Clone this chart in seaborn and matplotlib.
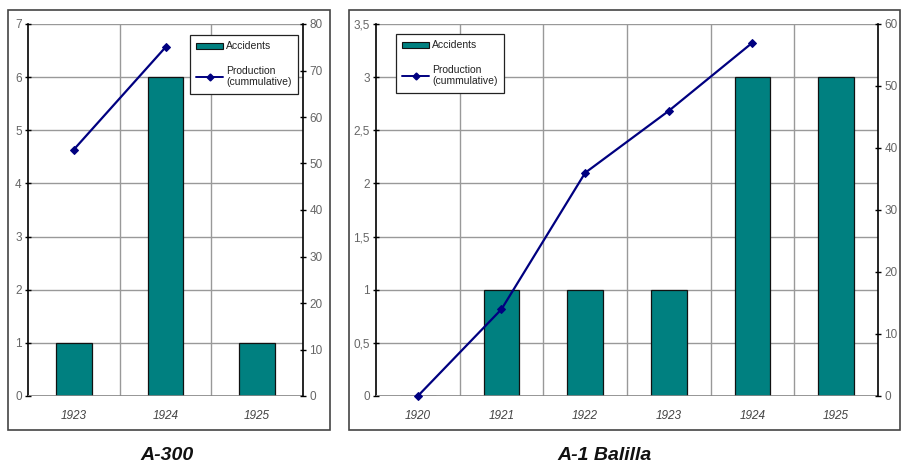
import numpy as np
import matplotlib
matplotlib.use("Agg")
import matplotlib.pyplot as plt
import seaborn as sns
from matplotlib.patches import Rectangle, Patch
from matplotlib.lines import Line2D
from matplotlib.ticker import FuncFormatter, FixedLocator

# data
a300_years = ["1923", "1924", "1925"]
a300_accidents = [1, 6, 1]
a300_prod_years = ["1923", "1924"]
a300_production = [53, 75]

balilla_years = ["1920", "1921", "1922", "1923", "1924", "1925"]
balilla_accidents = [0, 1, 1, 1, 3, 3]
balilla_prod_years = ["1920", "1921", "1922", "1923", "1924"]
balilla_production = [0, 14, 36, 46, 57]

TEAL = "#008080"
NAVY = "#000080"
W, H = 901, 467

sns.set_style("white")
plt.rcParams["font.family"] = ["Liberation Sans", "DejaVu Sans"]

fig = plt.figure(figsize=(W / 100, H / 100), dpi=100)


def px_axes(x0, y0, x1, y1):
    return fig.add_axes([x0 / W, 1 - y1 / H, (x1 - x0) / W, (y1 - y0) / H])


def panel(ax, years, acc, prod_years, prod, ymax, ystep, y2max, y2step, leg_xy,
          bar_w, comma=False):
    sns.barplot(x=years, y=acc, ax=ax, color=TEAL, saturation=1, width=bar_w,
                edgecolor="#111111", linewidth=0.9, zorder=3)
    n = len(years)
    ax.set_xlim(-0.5, n - 0.5)
    ax.set_ylim(0, ymax)
    ax.set_yticks(np.arange(0, ymax + 0.001, ystep))
    if comma:
        ax.yaxis.set_major_formatter(FuncFormatter(lambda v, p: f"{v:g}".replace(".", ",")))
    ax.xaxis.set_minor_locator(FixedLocator(np.arange(0.5, n - 0.5, 1)))
    ax.grid(axis="y", which="major", color="#999999", lw=1, zorder=0)
    ax.grid(axis="x", which="minor", color="#999999", lw=1, zorder=0)
    ax.set_axisbelow(True)
    for s in ["top", "right", "bottom"]:
        ax.spines[s].set_visible(False)
    ax.spines["left"].set_color("black")
    ax.spines["left"].set_linewidth(1.2)
    ax.axhline(0, color="#888888", lw=1.2, zorder=4)
    ax.tick_params(axis="y", direction="inout", length=5, width=1, color="black",
                   labelsize=8.5, labelcolor="#666666", pad=2)
    ax.tick_params(axis="x", which="major", length=0, labelsize=8.5, labelcolor="#444444", pad=10)
    ax.tick_params(axis="x", which="minor", direction="inout", length=6, color="#777777")
    for t in ax.get_xticklabels():
        t.set_fontstyle("italic")
    ax.set_xlabel("")
    ax.set_ylabel("")

    ax2 = ax.twinx()
    pos = [years.index(y) for y in prod_years]
    sns.lineplot(x=pos, y=prod, ax=ax2, color=NAVY, marker="D", markersize=4.5,
                 markeredgecolor=NAVY, lw=1.6, zorder=5, clip_on=False)
    ax2.set_ylim(0, y2max)
    ax2.set_yticks(np.arange(0, y2max + 0.001, y2step))
    for s in ["top", "left", "bottom"]:
        ax2.spines[s].set_visible(False)
    ax2.spines["right"].set_color("black")
    ax2.spines["right"].set_linewidth(1.2)
    ax2.tick_params(axis="y", direction="inout", length=5, width=1, color="black",
                    labelsize=8.5, labelcolor="#666666", pad=2)
    ax2.set_ylabel("")

    handles = [Patch(facecolor=TEAL, edgecolor="#111111", lw=0.8),
               Line2D([0], [0], color=NAVY, marker="D", markersize=3.5, lw=1.4)]
    leg = ax2.legend(handles, ["Accidents", "Production\n(cummulative)"],
                     loc="upper left", bbox_to_anchor=(leg_xy[0] / W, 1 - leg_xy[1] / H),
                     bbox_transform=fig.transFigure, fontsize=7.5, frameon=True,
                     fancybox=False, edgecolor="#222222", framealpha=1,
                     handlelength=2.6, handleheight=0.5, handletextpad=0.3,
                     labelspacing=1.4, borderpad=0.6, borderaxespad=0)
    leg.get_frame().set_linewidth(0.9)
    for t in leg.get_texts():
        t.set_color("#222222")


ax_l = px_axes(28, 24, 303, 396)
panel(ax_l, a300_years, a300_accidents, a300_prod_years, a300_production,
      7, 1, 80, 10, (190, 35), 0.39)

ax_r = px_axes(376, 24, 878, 396)
panel(ax_r, balilla_years, balilla_accidents, balilla_prod_years, balilla_production,
      3.5, 0.5, 60, 10, (396, 34), 0.43, comma=True)

# panel frames
for x0, x1 in [(8, 330), (349, 900)]:
    fig.add_artist(Rectangle((x0 / W, 1 - 430 / H), (x1 - x0) / W, 420 / H,
                             transform=fig.transFigure, fill=False,
                             edgecolor="#444444", lw=1.2))

fig.text(167 / W, 1 - 456 / H, "A-300", ha="center", va="center",
         fontsize=14, fontweight="bold", fontstyle="italic", color="#111111")
fig.text(605 / W, 1 - 456 / H, "A-1 Balilla", ha="center", va="center",
         fontsize=14, fontweight="bold", fontstyle="italic", color="#111111")

fig.savefig("out.png", dpi=100)
